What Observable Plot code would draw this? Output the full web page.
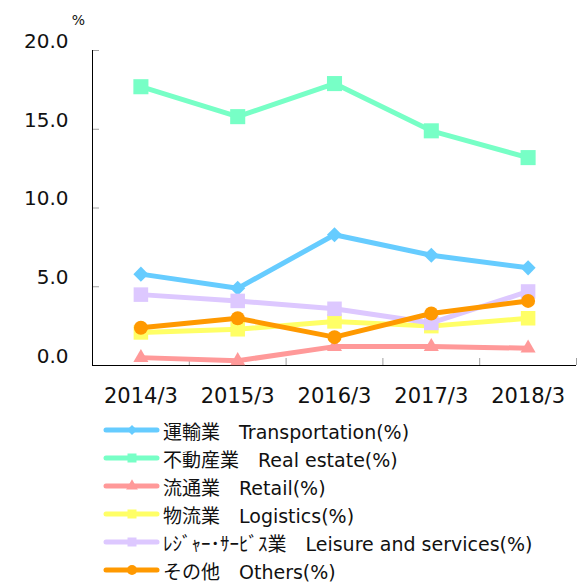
<!DOCTYPE html>
<html><head><meta charset="utf-8">
<script src="https://cdn.jsdelivr.net/npm/d3@7"></script>
<script src="https://cdn.jsdelivr.net/npm/@observablehq/plot@0.6"></script>
<style>
body{margin:0;background:#fff;font-family:"DejaVu Sans","Noto Sans CJK JP",sans-serif;}
#legend{padding-top:6px;}
.row{height:28px;display:flex;align-items:center;font-size:19px;color:#111;white-space:nowrap;}
.row svg{margin-left:103px;margin-right:3px;flex:none;}
</style></head><body>
<div id="chart"></div><div id="legend"></div>
<script>
const categories = ["2014/3","2015/3","2016/3","2017/3","2018/3"];
const transportation = [5.8,4.9,8.3,7.0,6.2];
const realEstate = [17.7,15.8,17.9,14.9,13.2];
const retail = [0.5,0.3,1.2,1.2,1.1];
const logistics = [2.1,2.3,2.8,2.5,3.0];
const leisure = [4.5,4.1,3.6,2.7,4.7];
const others = [2.4,3.0,1.8,3.3,4.1];
const yTicks = [0,5,10,15,20];
const seriesNames = ["運輸業　Transportation(%)","不動産業　Real estate(%)","流通業　Retail(%)","物流業　Logistics(%)","ﾚｼﾞｬｰ･ｻｰﾋﾞｽ業　Leisure and services(%)","その他　Others(%)"];
const seriesValues = [transportation, realEstate, retail, logistics, leisure, others];
const seriesColors = ["#66CCFF","#77FFC6","#FF9999","#FFFF66","#DDC8FF","#FF9900"];
const seriesSymbols = ["diamond2","square","triangle","square","square","circle"];
const seriesR = [6.8, 8.5, 5.6, 8.2, 8.2, 7];

const rows = [];
seriesValues.forEach((vals, s) => vals.forEach((v, i) => rows.push({s, i, v})));

const marks = [
  Plot.axisY({ticks: yTicks, tickSize: -7, tickFormat: () => "", stroke: "#a0a0a0", label: null}),
  Plot.axisY({ticks: yTicks, tickSize: 0, tickPadding: 24, tickFormat: d3.format(".1f"), dy: -9, fontSize: 20, fill: "#111", label: null}),
  Plot.axisX({ticks: [0.5,1.5,2.5,3.5,4.5], tickSize: -7, tickFormat: () => "", stroke: "#a0a0a0", label: null}),
  Plot.axisX({ticks: [0,1,2,3,4], tickSize: 0, tickPadding: 23, tickFormat: i => categories[i], fontSize: 21, fill: "#111", label: null}),
  Plot.ruleX([-0.5], {y1: 0, y2: 20, stroke: "#000"}),
  Plot.ruleY([0], {stroke: "#000"}),
  Plot.text(["%"], {frameAnchor: "top-left", textAnchor: "middle", lineAnchor: "middle", dx: -14, dy: -30, fontSize: 14, fill: "#111"})
];
seriesValues.forEach((vals, s) => {
  const data = rows.filter(d => d.s === s);
  marks.push(Plot.line(data, {x: "i", y: "v", stroke: seriesColors[s], strokeWidth: 5, strokeLinejoin: "round", strokeLinecap: "round"}));
  marks.push(Plot.dot(data, {x: "i", y: "v", symbol: () => seriesSymbols[s], r: seriesR[s], fill: seriesColors[s], stroke: "none"}));
});

const chart = Plot.plot({
  width: 577, height: 410,
  marginLeft: 92, marginRight: 1, marginTop: 50, marginBottom: 45,
  style: {fontFamily: '"DejaVu Sans","Noto Sans CJK JP",sans-serif', background: "#fff"},
  x: {type: "linear", domain: [-0.5, 4.5], axis: null},
  y: {domain: [0, 20], axis: null},
  symbol: {type: "identity"},
  marks
});
document.getElementById("chart").appendChild(chart);

const legendSizes = [64, 81, 60, 81, 81, 78];
const symMap = {diamond2: d3.symbolDiamond2, square: d3.symbolSquare, triangle: d3.symbolTriangle, circle: d3.symbolCircle};
const legend = d3.select("#legend");
seriesNames.forEach((name, s) => {
  const row = legend.append("div").attr("class", "row");
  const svg = row.append("svg").attr("width", 57).attr("height", 16);
  svg.append("line").attr("x1", 3).attr("x2", 54).attr("y1", 8).attr("y2", 8)
    .attr("stroke", seriesColors[s]).attr("stroke-width", 5).attr("stroke-linecap", "round");
  svg.append("path").attr("transform", "translate(29,8)")
    .attr("d", d3.symbol(symMap[seriesSymbols[s]], legendSizes[s])()).attr("fill", seriesColors[s]);
  row.append("span").text(name);
});
</script>
</body></html>
